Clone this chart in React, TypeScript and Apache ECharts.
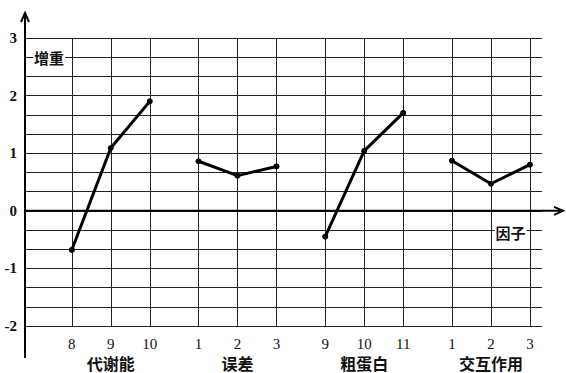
import React, { useEffect, useRef } from "react";
import * as echarts from "echarts";

// ---- data ----
const GROUPS = ["代谢能", "误差", "粗蛋白", "交互作用"];
const LEVEL_LABELS = [
  ["8", "9", "10"],
  ["1", "2", "3"],
  ["9", "10", "11"],
  ["1", "2", "3"],
];
// x positions of the levels (groups separated by a wider gap)
const X_POS = [
  [1, 2, 3],
  [4.25, 5.25, 6.25],
  [7.5, 8.5, 9.5],
  [10.75, 11.75, 12.75],
];
const VALUES = [
  [-0.68, 1.09, 1.9],
  [0.86, 0.61, 0.77],
  [-0.45, 1.04, 1.7],
  [0.87, 0.47, 0.8],
];
const Y_LABEL = "增重";
const X_LABEL = "因子";

const SERIF = "'Liberation Serif', 'DejaVu Serif', serif";
const CJK = "'Noto Sans CJK SC', sans-serif";

export default function App() {
  const ref = useRef<HTMLDivElement>(null);

  useEffect(() => {
    if (!ref.current) return;
    const chart = echarts.init(ref.current, null, { renderer: "svg" });

    const labelMap: Record<string, string> = {};
    X_POS.forEach((g, gi) =>
      g.forEach((x, i) => {
        const n = `{n|${LEVEL_LABELS[gi][i]}}`;
        labelMap[String(x)] = i === 1 ? `${n}\n{g|${GROUPS[gi]}}` : n;
      })
    );
    const allX = X_POS.flat();

    const series: any[] = VALUES.map((vals, gi) => ({
      type: "line",
      name: GROUPS[gi],
      data: vals.map((v, i) => [X_POS[gi][i], v]),
      symbol: "circle",
      symbolSize: 6,
      lineStyle: { color: "#000", width: 3 },
      itemStyle: { color: "#000" },
      z: 5,
    }));
    series.push({
      type: "line",
      data: [],
      silent: true,
      markLine: {
        silent: true,
        symbol: ["none", "none"],
        label: { show: false },
        lineStyle: { color: "#222", width: 1, type: "solid" },
        data: allX.map((x) => ({ xAxis: x })),
      },
      z: 1,
    });

    chart.setOption({
      animation: false,
      backgroundColor: "#fff",
      grid: { left: 25, right: 24, top: 38, bottom: 47, containLabel: false },
      xAxis: {
        type: "value",
        min: -0.2,
        max: 13.06,
        axisLine: { show: false, onZero: false },
        axisTick: { show: false },
        splitLine: { show: false },
        axisLabel: {
          customValues: allX,
          margin: 9,
          formatter: (v: number) => labelMap[String(v)] ?? "",
          rich: {
            n: { fontFamily: SERIF, fontSize: 15, color: "#111", lineHeight: 18 },
            g: {
              fontFamily: CJK,
              fontSize: 16,
              fontWeight: "bold",
              color: "#111",
              lineHeight: 19,
            },
          },
        },
      },
      yAxis: {
        type: "value",
        min: -2,
        max: 3,
        interval: 1,
        axisLine: { show: false },
        axisTick: { show: false },
        axisLabel: {
          margin: 8,
          fontFamily: SERIF,
          fontSize: 15,
          fontWeight: "bold",
          color: "#111",
        },
        splitLine: { show: true, lineStyle: { color: "#222", width: 1.2 } },
        minorTick: { show: false, splitNumber: 3 },
        minorSplitLine: { show: true, lineStyle: { color: "#222", width: 1.2 } },
      },
      series,
    });

    const p = (x: number, y: number) =>
      chart.convertToPixel({ gridIndex: 0 }, [x, y]) as number[];
    const origin = p(-0.2, 0);
    const ax = origin[0];
    const y0 = origin[1];
    const yLab = p(0, 2 + 2 / 3);
    const xLab = p(12.25, -1 / 3);

    chart.setOption({
      graphic: [
        {
          type: "line",
          shape: { x1: ax, y1: 13, x2: ax, y2: 358 },
          style: { stroke: "#000", lineWidth: 2 },
          z: 10,
        },
        {
          type: "polyline",
          shape: { points: [[ax - 4, 22], [ax, 13], [ax + 4, 22]] },
          style: { stroke: "#000", lineWidth: 2, fill: "none" },
          z: 10,
        },
        {
          type: "line",
          shape: { x1: ax, y1: y0, x2: 563, y2: y0 },
          style: { stroke: "#000", lineWidth: 2 },
          z: 10,
        },
        {
          type: "polyline",
          shape: { points: [[554, y0 - 4], [563, y0], [554, y0 + 4]] },
          style: { stroke: "#000", lineWidth: 2, fill: "none" },
          z: 10,
        },
        {
          type: "text",
          x: ax + 8,
          y: yLab[1],
          z: 11,
          style: {
            text: Y_LABEL,
            fontFamily: CJK,
            fontSize: 15,
            fontWeight: "bold",
            fill: "#111",
            backgroundColor: "#fff",
            padding: [0, 1],
            align: "left",
            verticalAlign: "middle",
          },
        },
        {
          type: "text",
          x: xLab[0],
          y: xLab[1] + 2,
          z: 11,
          style: {
            text: X_LABEL,
            fontFamily: CJK,
            fontSize: 15,
            fontWeight: "bold",
            fill: "#111",
            backgroundColor: "#fff",
            padding: [0, 1],
            align: "center",
            verticalAlign: "middle",
          },
        },
      ],
    });

    return () => chart.dispose();
  }, []);

  return (
    <div
      ref={ref}
      style={{ position: "fixed", left: 0, top: 0, width: 566, height: 373 }}
    />
  );
}
